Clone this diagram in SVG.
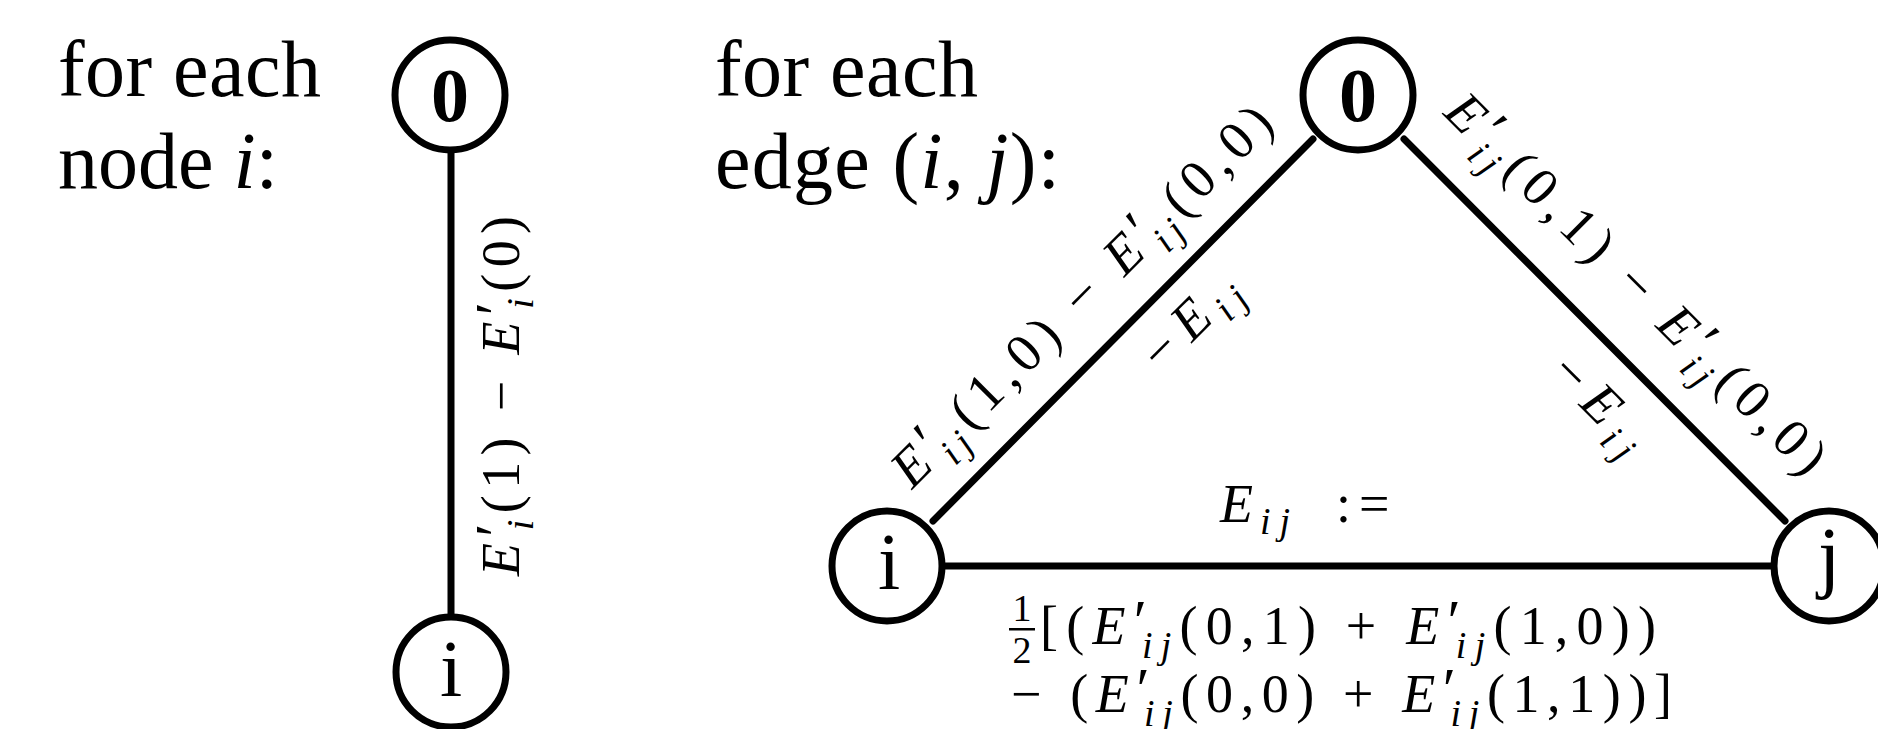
<svg xmlns="http://www.w3.org/2000/svg" width="1878" height="729" viewBox="0 0 1878 729">
<style>
.t{font-family:"Liberation Serif","Times New Roman",serif;fill:#000}
.title{font-size:80px}
.m{font-size:54px}
.it{font-style:italic}
.sub{font-size:38px;font-style:italic}
.pr{font-size:60px}
.frac{font-size:38px}
.nc{fill:#fff;stroke:#000;stroke-width:7}
.nl{font-family:"Liberation Serif","Times New Roman",serif;font-size:80px;text-anchor:middle;fill:#000}
.nb{font-weight:bold;font-size:76px}
.edge{stroke:#000;stroke-width:7;stroke-linecap:round;fill:none}
</style>
<rect width="1878" height="729" fill="#fff"/>

<g id="titles">
<text class="t title" x="58" y="96" textLength="263" lengthAdjust="spacing">for each</text>
<text class="t title" x="58" y="188">node <tspan class="it">i</tspan>:</text>
<text class="t title" x="715" y="96" textLength="263" lengthAdjust="spacing">for each</text>
<text class="t title" x="715" y="188" textLength="345" lengthAdjust="spacing">edge (<tspan class="it">i</tspan>, <tspan class="it">j</tspan>):</text>
</g>

<g id="connectors">
<line class="edge" x1="451" y1="153" x2="451" y2="614"/>
<line class="edge" x1="933" y1="521" x2="1313" y2="139"/>
<line class="edge" x1="1404" y1="139" x2="1785" y2="521"/>
<line class="edge" x1="945" y1="566" x2="1773" y2="566"/>
</g>

<g id="node-left-0">
<circle class="nc" cx="450" cy="95" r="55"/>
<text class="nl nb" x="450" y="121">0</text>
</g>
<g id="node-left-i">
<circle class="nc" cx="451" cy="672" r="55"/>
<text class="nl" x="451" y="696">i</text>
</g>
<g id="node-tri-0">
<circle class="nc" cx="1358" cy="95" r="55"/>
<text class="nl nb" x="1358" y="121">0</text>
</g>
<g id="node-tri-i">
<circle class="nc" cx="887" cy="566" r="55"/>
<text class="nl" x="889" y="589">i</text>
</g>
<g id="node-tri-j">
<circle class="nc" cx="1829" cy="566" r="55"/>
<text class="nl" x="1829" y="583">j</text>
</g>

<g id="labels">
<text class="t m" transform="translate(519,396) rotate(-90)" text-anchor="middle" textLength="360" lengthAdjust="spacing"><tspan class="it">E</tspan><tspan class="pr" dy="-3">′</tspan><tspan class="sub" dx="-13" dy="17">i</tspan><tspan dy="-14">(1) − </tspan><tspan class="it">E</tspan><tspan class="pr" dy="-3">′</tspan><tspan class="sub" dx="-13" dy="17">i</tspan><tspan dy="-14">(0)</tspan></text>

<text class="t m" transform="translate(1094,308) rotate(-45)" text-anchor="middle" textLength="515" lengthAdjust="spacing"><tspan class="it">E</tspan><tspan class="pr" dy="-3">′</tspan><tspan class="sub" dx="-13" dy="17">ij</tspan><tspan dy="-14">(1,0) − </tspan><tspan class="it">E</tspan><tspan class="pr" dy="-3">′</tspan><tspan class="sub" dx="-13" dy="17">ij</tspan><tspan dy="-14">(0,0)</tspan></text>
<text class="t m" transform="translate(1202,333) rotate(-45)" text-anchor="middle">−<tspan class="it" dx="12">E</tspan><tspan class="sub" dx="8" dy="12">i</tspan><tspan class="sub" dx="9">j</tspan></text>

<text class="t m" transform="translate(1624,296) rotate(45)" text-anchor="middle" textLength="515" lengthAdjust="spacing"><tspan class="it">E</tspan><tspan class="pr" dy="-3">′</tspan><tspan class="sub" dx="-13" dy="17">ij</tspan><tspan dy="-14">(0,1) − </tspan><tspan class="it">E</tspan><tspan class="pr" dy="-3">′</tspan><tspan class="sub" dx="-13" dy="17">ij</tspan><tspan dy="-14">(0,0)</tspan></text>
<text class="t m" transform="translate(1588,415) rotate(45)" text-anchor="middle">−<tspan class="it" dx="12">E</tspan><tspan class="sub" dx="8" dy="12">i</tspan><tspan class="sub" dx="9">j</tspan></text>

<text class="t m" x="1220" y="522"><tspan class="it">E</tspan><tspan class="sub" dx="7" dy="12">i</tspan><tspan class="sub" dx="9">j</tspan><tspan x="1336" dy="-12">:</tspan><tspan dx="8">=</tspan></text>

<text class="t frac" x="1022" y="621" text-anchor="middle">1</text>
<rect x="1009" y="628" width="26" height="2.5" fill="#000"/>
<text class="t frac" x="1022" y="663" text-anchor="middle">2</text>
<text class="t m" x="1040" y="644" textLength="616" lengthAdjust="spacing">[(<tspan class="it">E</tspan><tspan class="pr" dy="-3">′</tspan><tspan class="sub" dx="-13" dy="17">ij</tspan><tspan dy="-14">(0,1) + </tspan><tspan class="it">E</tspan><tspan class="pr" dy="-3">′</tspan><tspan class="sub" dx="-13" dy="17">ij</tspan><tspan dy="-14">(1,0))</tspan></text>
<text class="t m" x="1011" y="712" textLength="661" lengthAdjust="spacing">− (<tspan class="it">E</tspan><tspan class="pr" dy="-3">′</tspan><tspan class="sub" dx="-13" dy="17">ij</tspan><tspan dy="-14">(0,0) + </tspan><tspan class="it">E</tspan><tspan class="pr" dy="-3">′</tspan><tspan class="sub" dx="-13" dy="17">ij</tspan><tspan dy="-14">(1,1))]</tspan></text>
</g>
</svg>
